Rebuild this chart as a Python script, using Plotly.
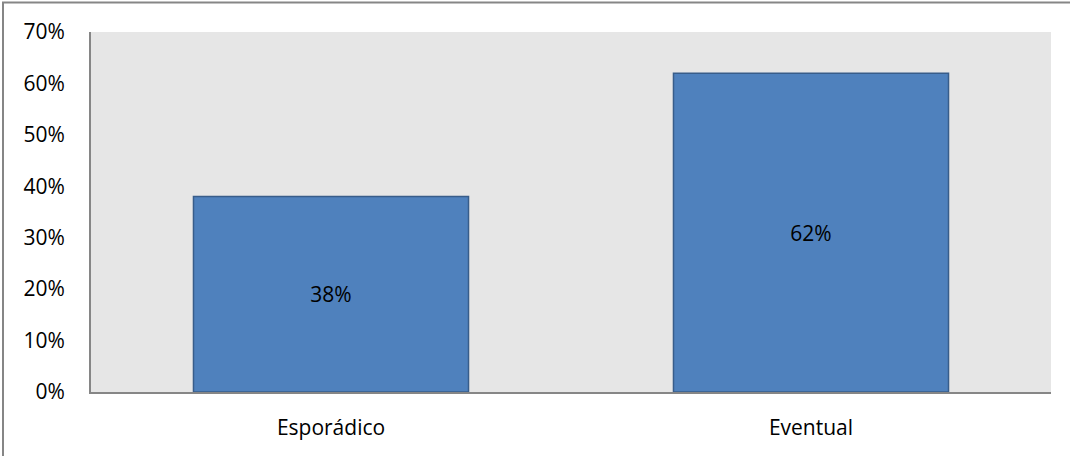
import plotly.graph_objects as go

categories = ["Esporádico", "Eventual"]
values = [0.38, 0.62]
labels = ["38%", "62%"]
tick_vals = [0, 0.1, 0.2, 0.3, 0.4, 0.5, 0.6, 0.7]
tick_text = ["0%", "10%", "20%", "30%", "40%", "50%", "60%", "70%"]

L, R, T, B = 91, 19, 32, 64
W, H = 1070, 456
pw, ph = W - L - R, H - T - B
FONT = "Open Sans"

fig = go.Figure(go.Bar(
    x=categories, y=values, text=labels, textposition="inside",
    insidetextanchor="middle",
    textfont=dict(color="black", size=21, family=FONT),
    marker=dict(color="#4F81BD", line=dict(color="#385D8A", width=1.5)),
    width=0.573,
))

fig.update_layout(
    width=W, height=H, margin=dict(l=L, r=R, t=T, b=B),
    plot_bgcolor="#E6E6E6", paper_bgcolor="white",
    font=dict(family=FONT, size=21, color="black"),
    showlegend=False,
    xaxis=dict(showline=True, linecolor="#868686", linewidth=2, showgrid=False,
               ticks="", ticklabelstandoff=16),
    yaxis=dict(range=[0, 0.7], tickvals=tick_vals, ticktext=tick_text,
               showline=True, linecolor="#868686", linewidth=2, showgrid=False,
               zeroline=False, ticks="", ticklabelstandoff=20),
    shapes=[dict(type="rect", xref="paper", yref="paper",
                 x0=(3 - L) / pw, x1=(1080 - L) / pw,
                 y0=(H - B - 470) / ph, y1=(H - B - 2.5) / ph,
                 line=dict(color="#868686", width=2), fillcolor="rgba(0,0,0,0)",
                 layer="below")],
)

fig.write_html("out.html")
